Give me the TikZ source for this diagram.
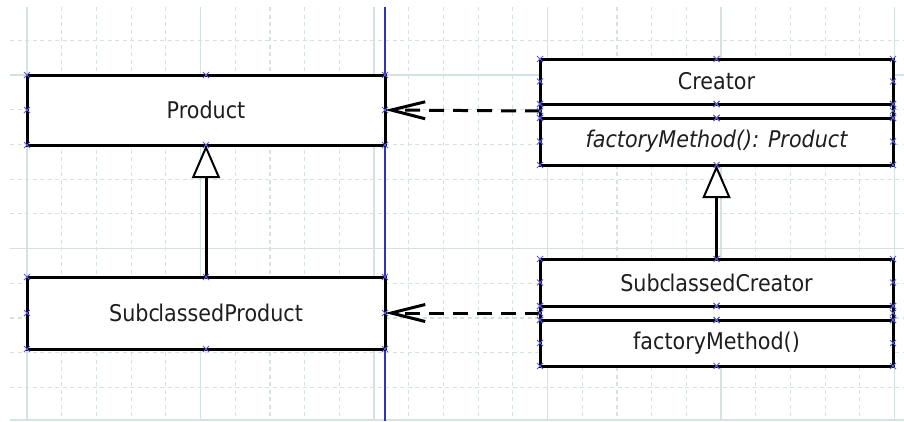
\documentclass[tikz,border=0pt]{standalone}
\usepackage{fontspec}
\setmainfont{DejaVu Sans}[FakeStretch=0.9]
\usetikzlibrary{arrows.meta}

\definecolor{gridcol}{RGB}{212,226,226}
\definecolor{marker}{RGB}{90,90,225}
\definecolor{guide}{RGB}{50,50,190}
\definecolor{ink}{RGB}{30,30,30}

\tikzset{
  umlbox/.style={draw=black, line width=3pt, fill=white, inner sep=0pt, outer sep=0pt,
    text=ink, font=\fontsize{23}{27}\selectfont},
  minorgrid/.style={gridcol, line width=1.2pt, dash pattern=on 4pt off 3.5pt},
  majorgrid/.style={gridcol, line width=1.4pt},
  dependency/.style={line width=3pt, dash pattern=on 15pt off 9pt,
    -{Straight Barb[length=34pt, width=17pt, line width=3pt]}},
  generalization/.style={line width=3pt,
    -{Triangle[open, fill=white, length=33pt, width=28pt, line width=2pt]}},
  crossmark/.style={marker, line width=1pt}
}

% small blue handle crosses at the eight border anchors of a node
\newcommand{\handles}[1]{%
  \foreach \a in {north west,north,north east,east,south east,south,south west,west}{%
    \draw[crossmark] ([shift={(-3,-3)}]#1.\a) -- ([shift={(3,3)}]#1.\a)
                     ([shift={(-3,3)}]#1.\a) -- ([shift={(3,-3)}]#1.\a);
  }}

\begin{document}
\begin{tikzpicture}[x=1pt, y=-1pt]
  \useasboundingbox (0,0) rectangle (904,421);
  \fill[white] (0,0) rectangle (904,421);

  % background grid
  \foreach \i in {0,...,25}{
    \pgfmathsetmacro{\gx}{27+34.7*\i}
    \pgfmathtruncatemacro{\m}{mod(\i,5)}
    \ifnum\m=0
      \draw[majorgrid] (\gx,7) -- (\gx,421);
    \else
      \draw[minorgrid] (\gx,7) -- (\gx,421);
    \fi
  }
  \foreach \j in {-1,...,9}{
    \pgfmathsetmacro{\gy}{75+34.7*\j}
    \pgfmathtruncatemacro{\m}{mod(\j+5,5)}
    \ifnum\m=0
      \draw[majorgrid] (10,\gy) -- (904,\gy);
    \else
      \draw[minorgrid] (10,\gy) -- (904,\gy);
    \fi
  }
  \draw[majorgrid] (10,420) -- (904,420);

  % page guide
  \draw[guide, line width=1.5pt] (385,7) -- (385,421);

  % product classes
  \node[umlbox, minimum width=358pt, minimum height=70pt] (product) at (206,110) {Product};
  \node[umlbox, minimum width=358pt, minimum height=72pt] (subproduct) at (206,313)
    {Subc\kern-1.5pt lassedProduct};

  % Creator: name, attributes, operations
  \node[umlbox, minimum width=353pt, minimum height=45pt] (cname) at (716.5,81.5) {Creator};
  \node[umlbox, minimum width=353pt, minimum height=14pt] (cattr) at (716.5,111) {};
  \node[umlbox, minimum width=353pt, minimum height=47pt] (cops) at (716.5,141.5)
    {\itshape factoryMethod(): Product};

  % SubclassedCreator: name, attributes, operations
  \node[umlbox, minimum width=353pt, minimum height=47pt] (sname) at (716.5,282.5)
    {Subc\kern-1.5pt lassedCreator};
  \node[umlbox, minimum width=353pt, minimum height=14pt] (sattr) at (716.5,313) {};
  \node[umlbox, minimum width=353pt, minimum height=46pt] (sops) at (716.5,343)
    {factoryMethod()};

  % relations
  \draw[dependency] (cattr.west) -- (product.east);
  \draw[dependency] (sattr.west) -- (subproduct.east);
  \draw[generalization] (subproduct.north) -- (product.south);
  \draw[generalization] (sname.north) -- (cops.south);

  % selection handles
  \handles{product}
  \handles{subproduct}
  \handles{cname}
  \handles{cattr}
  \handles{cops}
  \handles{sname}
  \handles{sattr}
  \handles{sops}
\end{tikzpicture}
\end{document}
